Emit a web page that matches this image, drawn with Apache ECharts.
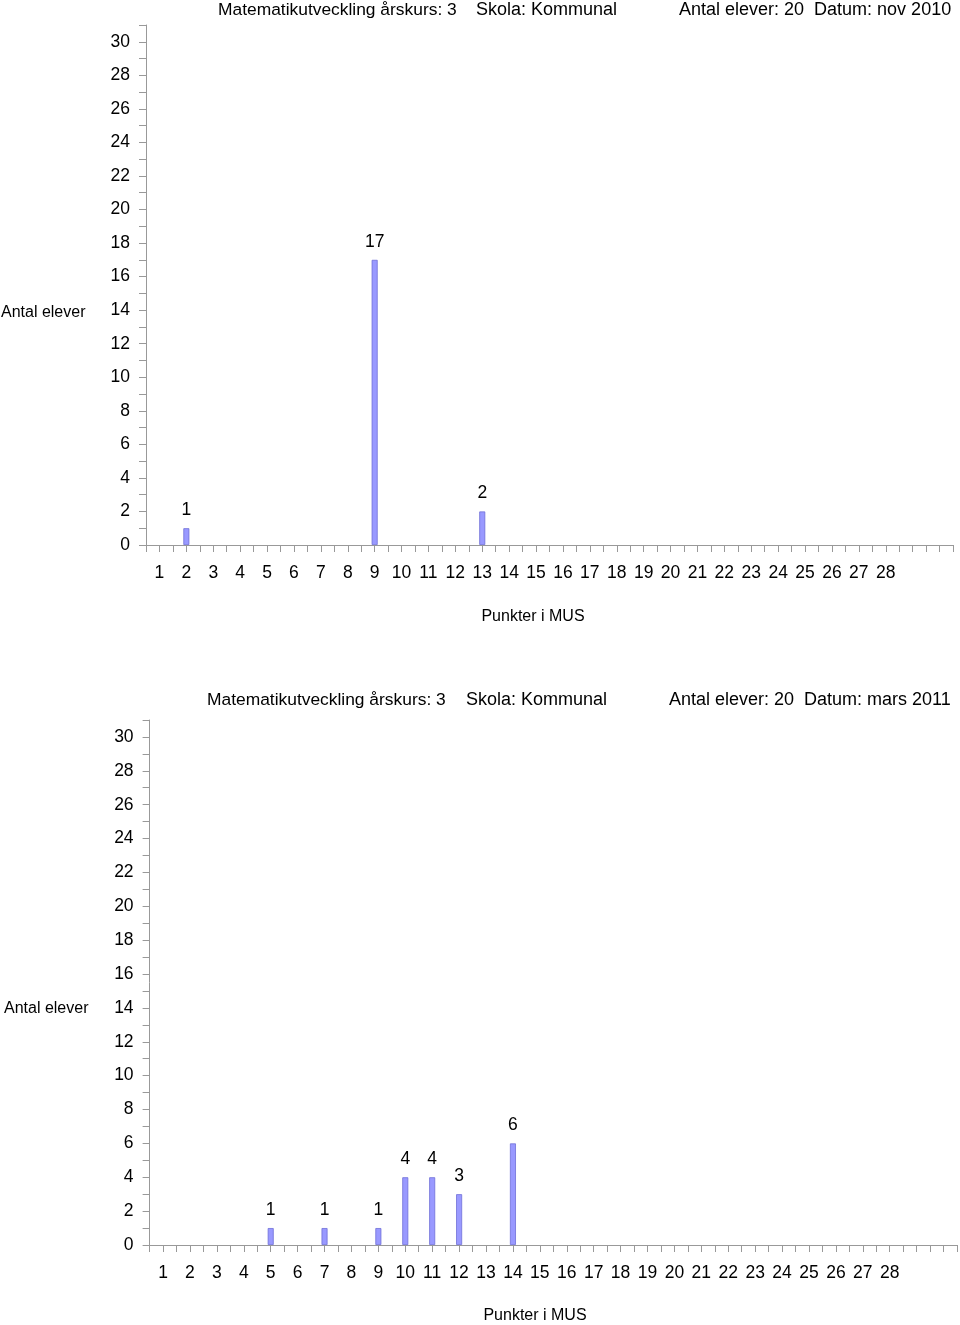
<!DOCTYPE html>
<html><head><meta charset="utf-8">
<script src="https://cdn.jsdelivr.net/npm/echarts@6/dist/echarts.min.js"></script>
<style>html,body{margin:0;padding:0;background:#fff}#c{width:960px;height:1325px}</style>
</head><body><div id="c"></div>
<script>
const categories = [1,2,3,4,5,6,7,8,9,10,11,12,13,14,15,16,17,18,19,20,21,22,23,24,25,26,27,28];
const pointsTop = [2, 9, 13];
const countsTop = [1, 17, 2];
const pointsBottom = [5, 7, 9, 10, 11, 12, 14];
const countsBottom = [1, 1, 1, 4, 4, 3, 6];
const yTicks = [0,2,4,6,8,10,12,14,16,18,20,22,24,26,28,30];
const titleTop = ['Matematikutveckling årskurs: 3', 'Skola: Kommunal', 'Antal elever: 20  Datum: nov 2010'];
const titleBottom = ['Matematikutveckling årskurs: 3', 'Skola: Kommunal', 'Antal elever: 20  Datum: mars 2011'];
const yName = 'Antal elever';
const xName = 'Punkter i MUS';

const FONT = '"Liberation Sans", Arial, sans-serif';
const axisColor = '#999999';

function xAxis(i){
  return {
    type:'value', gridIndex:i, min:0.5, max:30.5, interval:0.5,
    axisLine:{show:true, lineStyle:{color:axisColor}},
    axisTick:{show:true, inside:false, length:7, lineStyle:{color:axisColor}},
    splitLine:{show:false},
    axisLabel:{
      color:'#000', fontSize:17.5, fontFamily:FONT, margin:19,
      formatter:function(v){ const r=Math.round(v); return (Math.abs(v-r)<1e-6 && categories.indexOf(r)>=0) ? String(r) : ''; }
    }
  };
}
function yAxis(i){
  return {
    type:'value', gridIndex:i, min:0, max:31, interval:1,
    axisLine:{show:true, lineStyle:{color:axisColor}},
    axisTick:{show:true, length:7, lineStyle:{color:axisColor}},
    splitLine:{show:false},
    axisLabel:{
      color:'#000', fontSize:17.5, fontFamily:FONT, margin:16,
      formatter:function(v){ return yTicks.indexOf(v)>=0 ? String(v) : ''; }
    }
  };
}
function barSeries(i, xs, ys){
  return {
    type:'bar', xAxisIndex:i, yAxisIndex:i, barWidth:6,
    data: xs.map((x,k)=>[x, ys[k]]),
    itemStyle:{color:'#9999ff', borderColor:'#6e6ed8', borderWidth:0.8},
    label:{show:true, position:'top', distance:9, color:'#000', fontSize:17.5, fontFamily:FONT,
      formatter:p=>String(p.value[1])},
    animation:false
  };
}
function t(x,y,s,size,align){
  return {type:'text', x:x, y:y, style:{text:s, fill:'#000', font:size+'px '+FONT, align:align||'left', verticalAlign:'middle'}};
}

const chart = echarts.init(document.getElementById('c'), null, {renderer:'canvas'});
chart.setOption({
  animation:false,
  backgroundColor:'#fff',
  grid:[
    {left:146, top:25, width:807, height:520},
    {left:149.6, top:720, width:807.4, height:525}
  ],
  xAxis:[xAxis(0), xAxis(1)],
  yAxis:[yAxis(0), yAxis(1)],
  series:[barSeries(0, pointsTop, countsTop), barSeries(1, pointsBottom, countsBottom)],
  graphic:[
    t(218, 10, titleTop[0], 17.4),
    t(476, 10, titleTop[1], 18),
    t(679, 10, titleTop[2], 18),
    t(1, 313, yName, 16),
    t(533, 617, xName, 16, 'center'),
    t(207, 700, titleBottom[0], 17.4),
    t(466, 700, titleBottom[1], 18),
    t(669, 700, titleBottom[2], 18),
    t(4, 1009, yName, 16),
    t(535, 1316, xName, 16, 'center')
  ]
});
</script></body></html>
